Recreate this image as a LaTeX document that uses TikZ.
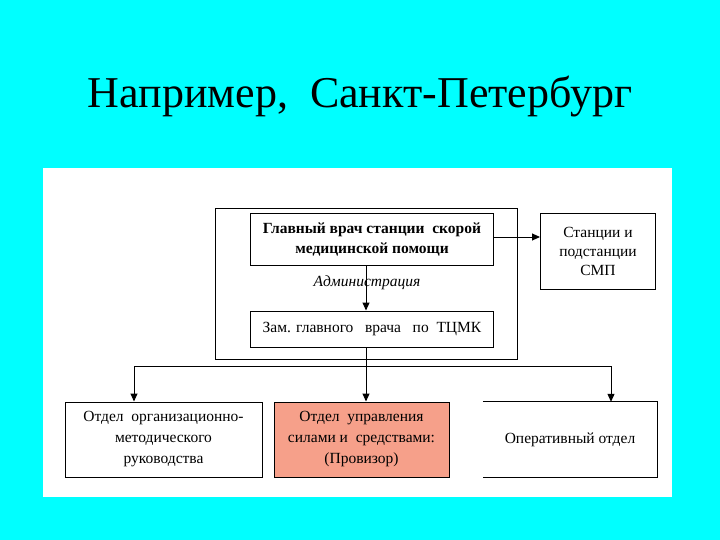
\documentclass[tikz,border=0pt]{standalone}
\usepackage{fontspec}
\setmainfont{Liberation Serif}
\usetikzlibrary{arrows.meta}
\definecolor{bgcyan}{RGB}{0,255,255}
\definecolor{salmon}{RGB}{246,160,138}
\begin{document}
\begin{tikzpicture}[x=1pt,y=-1pt,
  box/.style={draw=black,line width=1pt,inner sep=0pt,align=center,font=\fontsize{15.5}{21}\selectfont},
  conn/.style={line width=1pt,-{Triangle[length=8pt,width=7pt]}},
  plain/.style={line width=1pt}]
\useasboundingbox (0,0) rectangle (720,540);
\fill[bgcyan] (0,0) rectangle (720,540);
\fill[white] (43,168) rectangle (672,497);
\node (title) at (360,97) {\fontsize{44}{50}\selectfont Например,\ \ Санкт-Петербург};
% outer administration frame
\draw[plain] (215,209) rectangle (517,359);
\node[box,minimum width=243pt,minimum height=51pt,font=\fontsize{15.5}{20}\selectfont\bfseries] (chief) at (372,239.5) {Главный врач станции\ \ скорой\\медицинской помощи};
\node[font=\fontsize{15.5}{18}\selectfont\itshape] (admin) at (367,283) {Администрация};
\node[box,minimum width=243pt,minimum height=36pt] (deputy) at (372,329) {Зам. главного\ \ \ врача\ \ \ по\ \ ТЦМК};
\node[box,minimum width=115pt,minimum height=76pt,font=\fontsize{15.5}{19}\selectfont] (stations) at (598,251.5) {Станции и\\подстанции\\СМП};
\node[box,minimum width=197pt,minimum height=75pt] (orgdept) at (163.5,439.5) {Отдел\ \ организационно-\\методического\\руководства};
\node[box,fill=salmon,minimum width=175pt,minimum height=75pt] (ctrldept) at (361.5,439.5) {Отдел\ \ управления\\силами и\ \ средствами:\\(Провизор)};
\node[inner sep=0pt,minimum width=174pt,minimum height=75pt,align=center,font=\fontsize{15.5}{21}\selectfont] (operdept) at (570,439.5) {Оперативный отдел};
\draw[plain] (operdept.north west) -- (operdept.north east) -- (operdept.south east) -- (operdept.south west);
% connectors
\coordinate (chiefbot) at (366,265);
\coordinate (deputybot) at (366,347);
\coordinate (split) at (366,366);
\coordinate (lsplit) at (134,366);
\coordinate (rsplit) at (611,366);
\draw[conn] (chiefbot) -- (chiefbot |- deputy.north);
\draw[conn] (chief.east |- 0,237) -- (stations.west |- 0,237);
\draw[plain] (deputybot) -- (split);
\draw[plain] (lsplit) -- (rsplit);
\draw[conn] (lsplit) -- (lsplit |- orgdept.north);
\draw[conn] (split) -- (split |- ctrldept.north);
\draw[conn] (rsplit) -- (rsplit |- operdept.north);
\end{tikzpicture}
\end{document}
